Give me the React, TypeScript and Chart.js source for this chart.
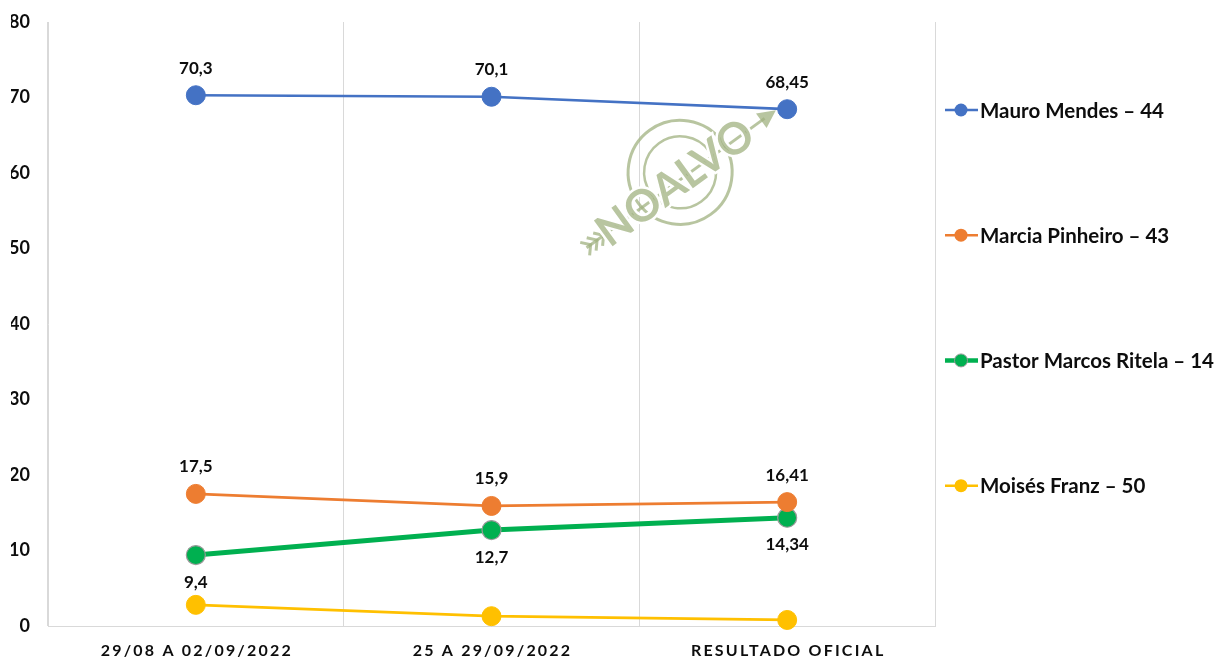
import React, { useEffect, useRef } from "react";
import { Chart, registerables } from "chart.js";

Chart.register(...registerables);

const categories = ["29/08 A 02/09/2022", "25 A 29/09/2022", "RESULTADO OFICIAL"];
const mauroMendes = [70.3, 70.1, 68.45];
const marciaPinheiro = [17.5, 15.9, 16.41];
const pastorMarcosRitela = [9.4, 12.7, 14.34];
const moisesFranz = [2.8, 1.3, 0.8];
const seriesNames = [
  "Mauro Mendes – 44",
  "Marcia Pinheiro – 43",
  "Pastor Marcos Ritela – 14",
  "Moisés Franz – 50",
];
const seriesColors = ["#4472C4", "#ED7D31", "#00B050", "#FFC000"];
const labelPlacement = ["above", "above", "below", "none"];
const yMin = 0;
const yMax = 80;
const yStep = 10;

const FONT = "Lato, 'Open Sans', sans-serif";
const TEXT = "#0d0d0d";

const fmt = (v: number) => String(v).replace(".", ",");

const dataLabelPlugin = {
  id: "dataLabels",
  afterDatasetsDraw(chart: any) {
    const ctx = chart.ctx;
    ctx.save();
    ctx.font = `bold 17px ${FONT}`;
    ctx.fillStyle = TEXT;
    ctx.textAlign = "center";
    ctx.textBaseline = "middle";
    chart.data.datasets.forEach((ds: any, i: number) => {
      const place = labelPlacement[i];
      if (place === "none") return;
      const meta = chart.getDatasetMeta(i);
      meta.data.forEach((pt: any, j: number) => {
        const off = place === "above" ? -27 : 27;
        ctx.fillText(fmt(ds.data[j]), pt.x, pt.y + off);
      });
    });
    ctx.restore();
  },
};

const xLabelPlugin = {
  id: "xLabels",
  afterDraw(chart: any) {
    const ctx = chart.ctx;
    const xs = chart.scales.x;
    ctx.save();
    ctx.font = `bold 16px ${FONT}`;
    (ctx as any).letterSpacing = "2.2px";
    ctx.fillStyle = TEXT;
    ctx.textAlign = "center";
    ctx.textBaseline = "middle";
    categories.forEach((c, i) => {
      ctx.fillText(c, xs.getPixelForTick(i) + 1, chart.chartArea.bottom + 25);
    });
    ctx.restore();
  },
};

const legendPlugin = {
  id: "sideLegend",
  afterDraw(chart: any) {
    const ctx = chart.ctx;
    const { top, bottom, right } = chart.chartArea;
    const h = bottom - top;
    ctx.save();
    chart.data.datasets.forEach((ds: any, i: number) => {
      const y = top + h * (0.1457 + 0.2073 * i);
      const x0 = right + 10;
      ctx.strokeStyle = ds.borderColor;
      ctx.lineWidth = i === 2 ? 4.5 : 2.5;
      ctx.beginPath();
      ctx.moveTo(x0, y);
      ctx.lineTo(x0 + 33, y);
      ctx.stroke();
      ctx.beginPath();
      ctx.arc(x0 + 16, y, 6.5, 0, Math.PI * 2);
      ctx.fillStyle = ds.backgroundColor;
      ctx.fill();
      if (i === 2) {
        ctx.lineWidth = 1;
        ctx.strokeStyle = "#9a9a9a";
        ctx.stroke();
      }
      ctx.font = `bold 20.5px ${FONT}`;
      ctx.fillStyle = TEXT;
      ctx.textAlign = "left";
      ctx.textBaseline = "middle";
      ctx.fillText(ds.label, x0 + 35, y + 1);
    });
    ctx.restore();
  },
};

const watermarkPlugin = {
  id: "watermark",
  beforeDatasetsDraw(chart: any) {
    const ctx = chart.ctx;
    const { left, right, top, bottom } = chart.chartArea;
    const cx = left + (right - left) * 0.708;
    const cy = top + (bottom - top) * 0.262;
    const col = "rgba(160,178,128,0.75)";
    ctx.save();
    ctx.translate(cx, cy);
    ctx.rotate((-36 * Math.PI) / 180);
    ctx.strokeStyle = col;
    ctx.lineWidth = 3;
    ctx.beginPath();
    ctx.arc(8, -4, 52, 0, Math.PI * 2);
    ctx.stroke();
    ctx.lineWidth = 2.5;
    ctx.beginPath();
    ctx.arc(8, -4, 36, 0, Math.PI * 2);
    ctx.stroke();
    ctx.lineWidth = 3;
    ctx.beginPath();
    ctx.moveTo(-112, 2);
    ctx.lineTo(108, 2);
    ctx.stroke();
    ctx.fillStyle = col;
    ctx.beginPath();
    ctx.moveTo(122, 2);
    ctx.lineTo(104, -7);
    ctx.lineTo(104, 11);
    ctx.closePath();
    ctx.fill();
    for (let k = 0; k < 3; k++) {
      const fx = -114 + k * 8;
      ctx.beginPath();
      ctx.moveTo(fx, -6);
      ctx.lineTo(fx + 7, 2);
      ctx.lineTo(fx, 10);
      ctx.stroke();
    }
    ctx.font = `bold 44px ${FONT}`;
    ctx.textAlign = "center";
    ctx.textBaseline = "middle";
    ctx.lineWidth = 5;
    ctx.strokeStyle = "#ffffff";
    ctx.strokeText("NOALVO", -2, 2);
    ctx.fillStyle = col;
    ctx.fillText("NOALVO", -2, 2);
    ctx.restore();
  },
};

export default function App() {
  const ref = useRef<HTMLCanvasElement | null>(null);

  useEffect(() => {
    if (!ref.current) return;
    const seriesData = [mauroMendes, marciaPinheiro, pastorMarcosRitela, moisesFranz];
    const chart = new Chart(ref.current, {
      type: "line",
      data: {
        labels: categories,
        datasets: seriesData.map((d, i) => ({
          label: seriesNames[i],
          data: d,
          borderColor: seriesColors[i],
          backgroundColor: seriesColors[i],
          borderWidth: i === 2 ? 5 : 2.7,
          pointRadius: 9.5,
          pointHoverRadius: 9.5,
          pointBackgroundColor: seriesColors[i],
          pointBorderColor: i === 2 ? "#9a9a9a" : seriesColors[i],
          pointBorderWidth: i === 2 ? 1.2 : 1,
          tension: 0,
          clip: false as any,
        })),
      },
      options: {
        animation: false,
        responsive: true,
        maintainAspectRatio: false,
        layout: { padding: { left: 11, right: 280, top: 22, bottom: 0 } },
        plugins: {
          legend: { display: false },
          tooltip: { enabled: false },
        },
        scales: {
          x: {
            offset: true,
            grid: {
              display: true,
              offset: true,
              color: "#d9d9d9",
              lineWidth: 1,
              drawTicks: false,
            },
            border: { display: true, color: "#d9d9d9", width: 1 },
            ticks: {
              color: "rgba(0,0,0,0)",
              font: { family: FONT, size: 15, weight: "bold" },
              padding: 17,
            },
            afterFit: (s: any) => {
              s.height = 35;
              s.paddingLeft = 0;
              s.paddingRight = 0;
            },
          },
          y: {
            min: yMin,
            max: yMax,
            grid: { display: false, drawTicks: false },
            border: { display: true, color: "#d9d9d9", width: 1 },
            ticks: {
              stepSize: yStep,
              color: TEXT,
              font: { family: FONT, size: 18, weight: "bold" },
              padding: 18,
            },
            afterFit: (s: any) => {
              s.width = 37;
              s.paddingTop = 0;
              s.paddingBottom = 0;
            },
          },
        },
      },
      plugins: [watermarkPlugin, dataLabelPlugin, xLabelPlugin, legendPlugin],
    });
    return () => chart.destroy();
  }, []);

  return (
    <div
      style={{
        position: "fixed",
        left: 0,
        top: 0,
        width: 1215,
        height: 661,
        background: "#ffffff",
      }}
    >
      <canvas ref={ref} />
    </div>
  );
}
